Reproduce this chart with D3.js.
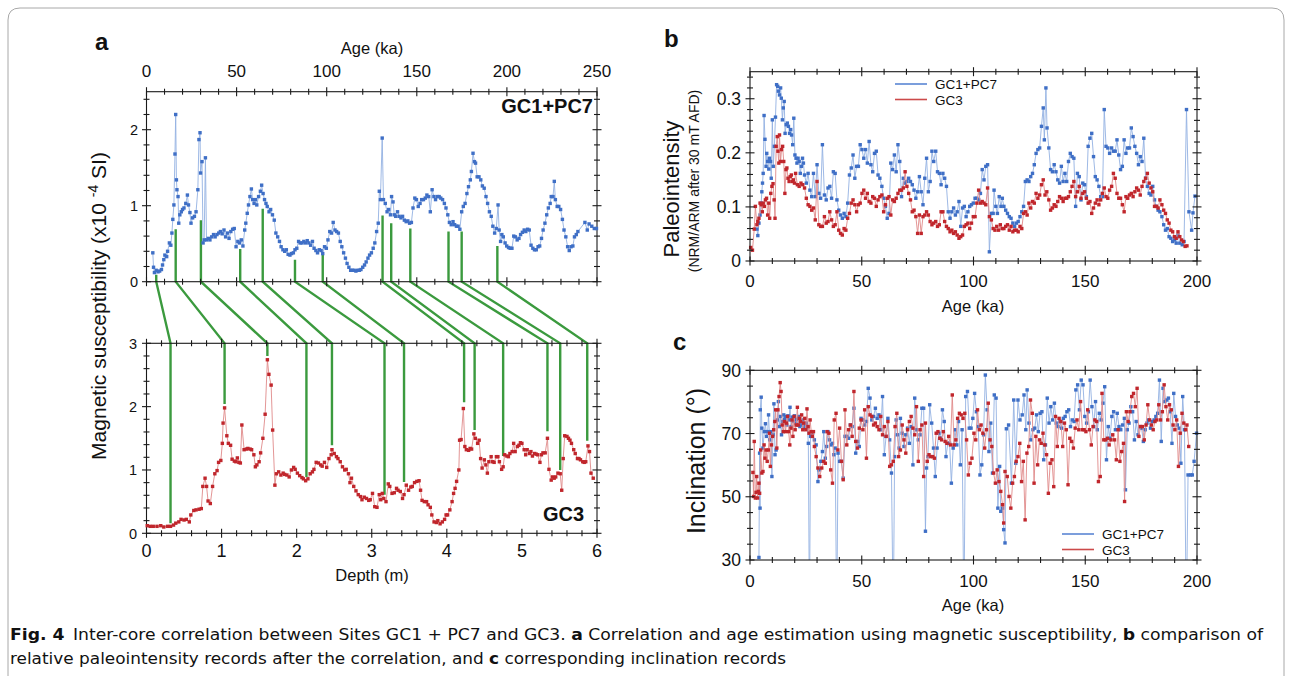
<!DOCTYPE html>
<html>
<head>
<meta charset="utf-8">
<script src="https://cdn.jsdelivr.net/npm/d3@7"></script>
<style>
    body { margin: 0; background: #fff; }
    svg { display: block; }
    text { font-family: "Liberation Sans", Arial, Helvetica, sans-serif; fill: #111; }
</style>
</head>
<body>
<svg id="fig" width="1292" height="676"></svg>
<script>
// ===========================
// Fig. 4 - inter-core correlation
// a: susceptibility tie points, b: paleointensity, c: inclination
// ===========================

// --- panel a, GC1+PC7 susceptibility [age ka, x10^-4 SI]
const susGC1 = [
[3.5,0.38],[3.9,0.19],[4.4,0.12],[5.4,0.15],[6.4,0.13],[7.3,0.14],[8.3,0.16],[8.9,0.22],[9.6,0.29],[10.2,0.35],[11.2,0.33],[11.7,0.40],[12.7,0.51],[13.5,0.48],[14.1,0.64],[14.6,0.82],[15.2,1.01],[15.8,1.68],[16.2,2.20],[16.6,1.34],[16.9,1.21],[17.5,1.12],[17.9,0.77],[18.5,0.88],[19.3,0.92],[20.0,0.95],[20.8,0.97],[21.8,1.03],[22.7,1.14],[23.3,1.01],[24.1,0.91],[24.7,0.77],[25.6,0.84],[26.6,0.86],[27.5,0.92],[28.5,1.21],[29.1,1.87],[29.7,1.96],[30.0,1.43],[30.8,1.58],[31.4,0.51],[32.0,0.55],[32.7,1.63],[33.3,0.55],[34.3,0.57],[35.2,0.55],[36.2,0.59],[37.2,0.62],[38.1,0.59],[39.1,0.62],[40.1,0.64],[41.0,0.66],[42.0,0.63],[43.0,0.68],[43.9,0.59],[44.9,0.64],[45.8,0.57],[46.8,0.66],[47.8,0.69],[48.7,0.70],[49.7,0.46],[50.7,0.53],[51.6,0.51],[52.6,0.55],[53.5,0.47],[54.5,0.68],[55.1,0.77],[55.9,0.90],[56.6,1.01],[57.4,1.12],[58.2,1.22],[58.9,1.08],[59.7,1.03],[60.5,1.08],[61.2,1.01],[62.2,1.12],[63.2,1.19],[63.9,1.27],[64.7,1.16],[65.5,1.08],[66.3,1.03],[67.0,0.99],[68.0,0.92],[68.9,0.95],[69.9,0.88],[70.9,0.81],[71.8,0.64],[72.8,0.59],[73.8,0.53],[74.7,0.46],[75.7,0.42],[76.7,0.40],[77.6,0.42],[78.6,0.36],[79.6,0.35],[80.5,0.37],[81.5,0.38],[82.4,0.42],[83.4,0.44],[84.4,0.53],[85.3,0.51],[86.3,0.51],[87.3,0.53],[88.2,0.51],[89.2,0.54],[90.1,0.51],[91.1,0.48],[92.1,0.53],[93.0,0.44],[94.0,0.41],[94.9,0.38],[95.9,0.42],[96.9,0.41],[97.8,0.37],[98.8,0.46],[99.8,0.44],[100.7,0.55],[101.7,0.66],[102.7,0.64],[103.6,0.78],[104.6,0.68],[105.5,0.66],[106.5,0.64],[107.5,0.53],[108.4,0.46],[109.4,0.38],[110.4,0.31],[111.3,0.24],[112.3,0.19],[113.3,0.15],[114.3,0.15],[115.2,0.15],[116.2,0.14],[117.1,0.15],[118.1,0.15],[119.0,0.16],[120.0,0.19],[121.0,0.22],[121.9,0.26],[122.9,0.31],[123.8,0.35],[124.8,0.38],[125.8,0.44],[126.7,0.51],[127.7,0.66],[128.6,0.77],[129.2,1.19],[129.8,1.08],[130.8,1.89],[131.5,1.08],[132.5,1.03],[133.5,0.92],[134.4,0.95],[135.4,0.88],[136.0,1.12],[136.8,1.05],[137.5,0.88],[138.3,0.86],[139.3,0.92],[140.2,0.86],[141.2,0.84],[142.1,0.86],[143.1,0.81],[144.1,0.79],[145.0,0.80],[146.0,0.77],[147.0,0.78],[147.9,0.97],[148.9,1.10],[149.8,1.08],[150.8,0.99],[151.8,1.03],[152.7,1.08],[153.7,1.08],[154.7,1.10],[155.6,1.14],[156.6,1.12],[157.5,0.92],[158.5,1.21],[159.5,1.12],[160.4,1.08],[161.4,1.12],[162.4,1.12],[163.3,1.10],[164.3,1.08],[165.3,1.03],[166.2,0.97],[167.2,0.88],[168.1,0.78],[169.1,0.75],[170.1,0.79],[171.0,0.75],[172.0,0.73],[172.9,0.73],[173.9,0.69],[174.9,0.92],[175.8,0.99],[176.8,1.03],[177.8,1.16],[178.7,1.25],[179.7,1.34],[180.3,1.45],[181.2,1.69],[182.0,1.58],[182.6,1.56],[183.5,1.38],[184.5,1.38],[185.5,1.34],[186.4,1.26],[187.4,1.23],[188.4,1.12],[189.3,1.03],[190.3,0.92],[191.3,0.86],[192.2,0.73],[193.2,0.64],[194.1,0.70],[195.1,1.01],[195.7,0.68],[196.5,0.53],[197.2,0.62],[198.0,0.59],[199.0,0.51],[199.9,0.47],[200.9,0.45],[201.8,0.44],[202.8,0.44],[203.8,0.60],[204.7,0.59],[205.7,0.55],[206.7,0.57],[207.6,0.62],[208.6,0.65],[209.6,0.68],[210.5,0.66],[211.5,0.69],[212.4,0.68],[213.4,0.48],[214.4,0.44],[215.3,0.42],[216.3,0.42],[217.3,0.46],[218.2,0.47],[219.2,0.57],[220.1,0.68],[221.1,0.77],[222.1,0.88],[223.0,0.97],[224.0,1.03],[224.6,1.12],[225.6,1.12],[226.3,1.32],[226.9,1.08],[227.9,0.99],[228.8,0.99],[229.8,0.95],[230.8,0.82],[231.7,0.68],[232.7,0.59],[233.7,0.46],[234.6,0.41],[235.6,0.46],[236.6,0.47],[237.5,0.59],[238.5,0.62],[239.4,0.66],[243.3,0.78],[244.6,0.68],[245.6,0.76],[247.1,0.73],[248.5,0.70],[249.7,0.70]
];

// --- panel a, GC3 susceptibility [depth m, x10^-4 SI]
const susGC3 = [
[0.01,0.12],[0.05,0.11],[0.09,0.11],[0.14,0.11],[0.19,0.12],[0.23,0.10],[0.28,0.11],[0.32,0.11],[0.36,0.13],[0.39,0.16],[0.43,0.18],[0.46,0.22],[0.50,0.21],[0.53,0.22],[0.57,0.18],[0.59,0.29],[0.63,0.36],[0.66,0.37],[0.70,0.38],[0.73,0.39],[0.75,0.74],[0.78,0.87],[0.80,0.74],[0.82,0.51],[0.85,0.47],[0.88,0.74],[0.91,0.94],[0.94,0.99],[0.96,1.12],[0.99,1.15],[1.01,1.42],[1.02,1.74],[1.04,1.98],[1.07,1.54],[1.09,1.42],[1.12,1.39],[1.14,1.17],[1.17,1.14],[1.19,1.13],[1.21,1.19],[1.23,1.12],[1.25,1.11],[1.27,1.71],[1.30,1.32],[1.33,1.33],[1.35,1.34],[1.38,1.33],[1.40,1.32],[1.43,1.24],[1.45,1.05],[1.47,1.08],[1.50,1.13],[1.52,1.27],[1.55,1.50],[1.58,1.88],[1.61,2.74],[1.63,2.51],[1.66,2.34],[1.68,1.63],[1.71,0.76],[1.73,0.94],[1.76,0.97],[1.79,0.92],[1.82,0.95],[1.84,0.93],[1.87,0.92],[1.90,0.89],[1.93,1.00],[1.96,1.04],[1.98,1.01],[2.01,0.95],[2.04,0.91],[2.07,0.88],[2.09,0.86],[2.12,0.83],[2.15,0.86],[2.18,0.94],[2.21,0.97],[2.23,1.01],[2.26,1.12],[2.29,1.11],[2.32,1.08],[2.34,1.06],[2.37,1.12],[2.40,1.04],[2.43,1.18],[2.46,1.24],[2.47,1.32],[2.50,1.26],[2.53,1.21],[2.55,1.18],[2.58,1.13],[2.61,1.05],[2.64,1.00],[2.66,1.01],[2.69,0.94],[2.71,0.80],[2.73,0.87],[2.76,0.74],[2.79,0.67],[2.82,0.61],[2.85,0.58],[2.87,0.53],[2.90,0.57],[2.93,0.55],[2.96,0.52],[2.98,0.53],[3.01,0.63],[3.04,0.42],[3.07,0.41],[3.10,0.61],[3.12,0.53],[3.14,0.63],[3.16,0.55],[3.19,0.50],[3.22,0.78],[3.24,0.74],[3.27,0.63],[3.30,0.64],[3.33,0.71],[3.35,0.68],[3.38,0.66],[3.41,0.55],[3.43,0.61],[3.46,0.76],[3.49,0.68],[3.52,0.73],[3.54,0.74],[3.57,0.80],[3.60,0.82],[3.63,0.83],[3.65,0.68],[3.67,0.52],[3.70,0.50],[3.73,0.50],[3.75,0.45],[3.78,0.41],[3.80,0.29],[3.83,0.18],[3.86,0.17],[3.88,0.20],[3.91,0.15],[3.94,0.18],[3.97,0.22],[3.99,0.29],[4.01,0.29],[4.04,0.37],[4.07,0.50],[4.09,0.63],[4.11,0.71],[4.13,0.82],[4.16,1.00],[4.17,1.47],[4.19,1.48],[4.22,1.97],[4.24,1.37],[4.26,1.32],[4.29,1.31],[4.31,1.34],[4.33,1.33],[4.36,1.57],[4.38,1.50],[4.41,1.42],[4.43,1.47],[4.45,1.18],[4.47,1.03],[4.50,1.16],[4.52,1.08],[4.54,0.95],[4.56,1.13],[4.59,1.21],[4.61,1.13],[4.63,1.12],[4.66,1.21],[4.68,1.21],[4.70,1.13],[4.73,1.01],[4.75,1.05],[4.77,1.24],[4.80,1.22],[4.82,1.21],[4.84,1.26],[4.87,1.29],[4.89,1.42],[4.91,1.29],[4.94,1.37],[4.96,1.39],[4.98,1.43],[5.00,1.42],[5.03,1.32],[5.05,1.24],[5.07,1.32],[5.10,1.26],[5.12,1.29],[5.14,1.22],[5.17,1.26],[5.19,1.25],[5.21,1.24],[5.24,1.12],[5.26,1.24],[5.28,1.27],[5.31,1.27],[5.34,1.50],[5.36,1.01],[5.39,0.84],[5.41,0.89],[5.43,0.87],[5.45,0.89],[5.48,0.95],[5.51,0.94],[5.53,0.68],[5.55,1.18],[5.57,1.54],[5.60,1.53],[5.62,1.50],[5.64,1.47],[5.66,1.42],[5.69,1.32],[5.71,1.26],[5.74,1.18],[5.76,1.18],[5.78,1.16],[5.81,1.13],[5.83,1.12],[5.85,1.13],[5.88,1.38],[5.90,1.29],[5.92,0.95],[5.95,0.87]
];

// --- tie points between the two cores
const tieAge    = [5.4, 16.2, 30.2, 52.0, 64.5, 82.4, 97.8, 131.0, 135.8, 146.4, 167.6, 174.9, 194.7];
const tieTopVal = [0.09, 0.69, 0.81, 0.43, 0.96, 0.29, 0.35, 0.87, 0.77, 0.70, 0.66, 0.66, 0.47];
const tieDepth  = [0.32, 1.04, 1.61, 2.13, 2.47, 3.17, 3.43, 4.23, 4.37, 4.75, 5.34, 5.51, 5.87];
const tieBotVal = [0.16, 2.04, 2.80, 0.89, 1.39, 0.61, 0.81, 2.07, 1.63, 1.22, 1.61, 1.00, 1.46];

// --- panel b, paleointensity [age ka, NRM/ARM]
const piGC1 = [
[3.1,0.059],[3.5,0.047],[4.0,0.070],[4.5,0.085],[5.0,0.107],[5.3,0.128],[5.6,0.144],[5.9,0.162],[6.3,0.269],[6.7,0.225],[7.2,0.175],[7.5,0.199],[7.9,0.184],[8.4,0.170],[8.7,0.190],[9.2,0.184],[9.5,0.153],[10.0,0.261],[10.4,0.175],[10.9,0.212],[11.4,0.266],[11.9,0.326],[12.4,0.323],[12.7,0.314],[13.2,0.307],[13.7,0.320],[14.0,0.301],[14.5,0.261],[14.9,0.283],[15.3,0.295],[15.7,0.236],[16.2,0.252],[16.7,0.255],[17.2,0.249],[17.7,0.236],[18.2,0.243],[18.6,0.233],[19.1,0.215],[19.6,0.264],[20.1,0.196],[20.6,0.190],[21.0,0.181],[21.5,0.190],[22.0,0.184],[22.5,0.162],[23.0,0.175],[23.5,0.190],[23.9,0.181],[24.4,0.159],[25.2,0.144],[26.0,0.162],[26.8,0.131],[27.6,0.119],[28.4,0.162],[29.2,0.119],[30.0,0.178],[30.8,0.125],[31.6,0.116],[32.4,0.215],[33.3,0.122],[34.1,0.113],[34.9,0.135],[35.7,0.138],[36.5,0.116],[37.3,0.165],[38.1,0.162],[38.9,0.113],[39.7,0.094],[40.5,0.085],[41.3,0.079],[42.1,0.088],[42.9,0.082],[43.7,0.107],[44.5,0.159],[45.3,0.172],[46.1,0.196],[46.9,0.153],[47.7,0.175],[48.5,0.175],[49.3,0.215],[50.1,0.206],[50.9,0.190],[51.7,0.206],[52.5,0.181],[53.3,0.221],[54.1,0.178],[54.9,0.165],[55.7,0.199],[56.5,0.203],[57.3,0.159],[58.1,0.153],[59.0,0.138],[59.8,0.116],[60.6,0.101],[61.4,0.079],[62.2,0.088],[63.0,0.181],[63.8,0.169],[64.6,0.196],[65.4,0.165],[66.2,0.215],[67.0,0.184],[67.8,0.119],[68.6,0.153],[69.4,0.144],[70.2,0.147],[71.0,0.153],[71.8,0.147],[72.6,0.141],[73.4,0.131],[74.2,0.116],[75.0,0.128],[75.8,0.156],[76.6,0.128],[77.4,0.104],[78.2,0.153],[79.0,0.190],[79.8,0.128],[80.6,0.147],[81.4,0.203],[82.2,0.184],[83.1,0.203],[83.9,0.165],[84.7,0.162],[85.5,0.141],[86.3,0.162],[87.1,0.153],[87.9,0.138],[88.7,0.091],[89.5,0.079],[90.3,0.091],[91.1,0.098],[91.9,0.085],[92.7,0.091],[93.5,0.110],[94.3,0.064],[95.1,0.098],[95.9,0.101],[96.7,0.082],[97.5,0.091],[98.3,0.101],[99.1,0.104],[99.9,0.107],[100.7,0.116],[101.5,0.116],[102.3,0.113],[103.1,0.125],[103.9,0.169],[104.7,0.150],[105.5,0.175],[106.3,0.178],[107.1,0.017],[108.0,0.088],[108.8,0.088],[109.2,0.131],[110.0,0.101],[110.7,0.088],[111.5,0.119],[112.3,0.101],[112.9,0.116],[113.6,0.101],[114.4,0.094],[115.2,0.088],[116.0,0.082],[116.8,0.079],[117.6,0.070],[118.4,0.064],[119.2,0.070],[120.0,0.073],[120.8,0.082],[121.6,0.091],[122.4,0.101],[123.2,0.147],[124.0,0.150],[124.8,0.147],[125.6,0.156],[126.4,0.162],[127.2,0.178],[128.0,0.199],[128.8,0.206],[129.6,0.209],[130.4,0.249],[131.2,0.283],[131.7,0.224],[132.4,0.320],[132.9,0.246],[133.7,0.209],[134.5,0.169],[135.3,0.165],[136.1,0.178],[136.9,0.165],[137.7,0.150],[138.5,0.144],[139.3,0.175],[140.1,0.147],[140.9,0.162],[141.7,0.147],[142.5,0.184],[143.3,0.199],[144.1,0.193],[144.9,0.190],[145.7,0.101],[146.5,0.162],[147.3,0.156],[148.1,0.113],[148.9,0.144],[149.7,0.141],[150.5,0.119],[151.3,0.212],[152.1,0.227],[152.9,0.236],[153.7,0.193],[154.5,0.156],[155.3,0.150],[156.1,0.138],[156.9,0.119],[157.7,0.119],[158.5,0.280],[159.3,0.212],[160.1,0.209],[160.9,0.199],[161.8,0.209],[162.6,0.203],[163.4,0.203],[164.2,0.224],[165.0,0.196],[165.8,0.169],[166.6,0.175],[167.4,0.224],[168.2,0.199],[169.0,0.209],[169.8,0.209],[170.6,0.246],[171.4,0.230],[172.2,0.212],[173.0,0.199],[173.8,0.178],[174.6,0.193],[175.4,0.184],[176.2,0.227],[177.0,0.153],[177.8,0.138],[178.6,0.125],[179.4,0.122],[180.2,0.138],[181.0,0.113],[181.8,0.101],[182.6,0.094],[183.4,0.091],[184.3,0.082],[185.1,0.067],[185.9,0.057],[186.7,0.060],[187.5,0.045],[188.3,0.042],[189.1,0.036],[189.9,0.039],[190.7,0.033],[191.5,0.048],[192.3,0.033],[193.4,0.030],[194.2,0.036],[195.3,0.280],[196.4,0.091],[197.6,0.057],[198.2,0.089],[199.1,0.120]
];
const piGC3 = [
[0.3,0.025],[1.1,0.020],[1.9,0.059],[2.4,0.101],[3.1,0.067],[3.5,0.073],[4.0,0.079],[4.5,0.107],[5.0,0.104],[5.5,0.091],[5.9,0.107],[6.4,0.101],[6.9,0.113],[7.4,0.116],[7.9,0.085],[8.4,0.107],[8.8,0.079],[9.3,0.125],[9.8,0.138],[10.3,0.143],[10.8,0.113],[11.2,0.079],[11.7,0.212],[12.2,0.230],[12.5,0.203],[12.9,0.181],[13.2,0.233],[13.7,0.184],[14.1,0.206],[14.6,0.212],[15.1,0.184],[15.6,0.125],[16.1,0.169],[16.5,0.172],[17.0,0.153],[17.5,0.147],[18.0,0.156],[18.5,0.159],[19.0,0.147],[19.4,0.150],[19.9,0.144],[20.4,0.162],[21.2,0.141],[22.0,0.138],[22.8,0.144],[23.6,0.141],[24.4,0.135],[25.2,0.116],[26.0,0.104],[26.8,0.101],[27.6,0.094],[28.4,0.098],[29.2,0.076],[30.0,0.147],[30.8,0.067],[31.6,0.064],[32.4,0.064],[33.3,0.082],[34.1,0.070],[34.9,0.073],[35.7,0.091],[36.5,0.076],[37.3,0.064],[38.1,0.067],[38.9,0.091],[39.7,0.057],[40.5,0.051],[41.3,0.048],[42.1,0.060],[42.9,0.057],[43.7,0.079],[44.5,0.088],[45.3,0.107],[46.1,0.113],[46.9,0.104],[47.7,0.091],[48.5,0.104],[49.3,0.107],[50.1,0.125],[50.9,0.131],[51.7,0.116],[52.5,0.125],[53.3,0.110],[54.1,0.107],[54.9,0.119],[55.7,0.116],[56.5,0.101],[57.3,0.113],[58.1,0.119],[59.0,0.122],[59.8,0.091],[60.6,0.104],[61.4,0.116],[62.2,0.119],[63.0,0.085],[63.8,0.113],[64.6,0.110],[65.4,0.116],[66.2,0.125],[67.0,0.131],[67.8,0.131],[68.6,0.135],[69.4,0.165],[70.2,0.138],[71.0,0.125],[71.8,0.113],[72.6,0.091],[73.4,0.094],[74.2,0.082],[75.0,0.051],[75.8,0.085],[76.6,0.051],[77.4,0.082],[78.2,0.085],[79.0,0.091],[79.8,0.085],[80.6,0.073],[81.4,0.067],[82.2,0.070],[83.1,0.073],[83.9,0.064],[84.7,0.067],[85.5,0.091],[86.3,0.091],[87.1,0.073],[87.9,0.064],[88.7,0.060],[89.5,0.054],[90.3,0.057],[91.1,0.051],[91.9,0.054],[92.7,0.048],[93.5,0.042],[94.3,0.045],[95.1,0.048],[95.9,0.064],[96.7,0.067],[97.5,0.070],[98.3,0.060],[99.1,0.070],[99.9,0.082],[100.7,0.082],[101.5,0.107],[102.3,0.131],[103.1,0.107],[103.9,0.110],[104.7,0.107],[105.5,0.104],[106.3,0.135],[107.1,0.082],[108.0,0.076],[108.8,0.060],[109.6,0.057],[110.4,0.064],[111.2,0.057],[112.0,0.067],[112.8,0.060],[113.6,0.060],[114.4,0.064],[115.2,0.067],[116.0,0.057],[116.8,0.064],[117.6,0.054],[118.4,0.057],[119.2,0.057],[120.0,0.054],[120.8,0.064],[121.6,0.060],[122.4,0.088],[123.2,0.091],[124.0,0.085],[124.8,0.107],[125.6,0.098],[126.4,0.110],[127.2,0.107],[128.0,0.125],[128.8,0.116],[129.6,0.122],[130.4,0.141],[131.2,0.150],[132.0,0.122],[132.8,0.128],[133.7,0.113],[134.5,0.094],[135.3,0.098],[136.1,0.104],[136.9,0.101],[137.7,0.110],[138.5,0.119],[139.3,0.116],[140.1,0.110],[140.9,0.116],[141.7,0.116],[142.5,0.119],[143.3,0.128],[144.1,0.138],[144.9,0.147],[145.7,0.119],[146.5,0.128],[147.3,0.138],[148.1,0.116],[148.9,0.125],[149.7,0.128],[150.5,0.116],[151.3,0.107],[152.1,0.110],[152.9,0.088],[153.7,0.098],[154.5,0.107],[155.3,0.113],[156.1,0.104],[156.9,0.113],[157.7,0.125],[158.5,0.135],[159.3,0.119],[160.1,0.116],[160.9,0.131],[161.8,0.138],[162.6,0.162],[163.4,0.153],[164.2,0.125],[165.0,0.116],[165.8,0.116],[166.6,0.104],[167.4,0.091],[168.2,0.119],[169.0,0.116],[169.8,0.122],[170.6,0.125],[171.4,0.119],[172.2,0.128],[173.0,0.135],[173.8,0.131],[174.6,0.122],[175.4,0.138],[176.2,0.147],[177.0,0.153],[177.8,0.162],[178.6,0.144],[179.4,0.135],[180.2,0.128],[181.0,0.101],[181.8,0.101],[182.6,0.098],[183.4,0.113],[184.3,0.104],[185.1,0.094],[185.9,0.088],[186.7,0.076],[187.5,0.070],[188.3,0.057],[189.1,0.054],[189.9,0.045],[190.7,0.042],[191.5,0.054],[192.3,0.045],[193.1,0.039],[193.9,0.036],[194.7,0.027],[195.5,0.028]
];

// --- panel c, inclination [age ka, degrees]; values under 30 run off the axis
const incGC1 = [
[4.0,30.8],[4.3,63.8],[4.5,46.4],[4.6,77.5],[5.0,81.5],[5.3,71.7],[5.8,65.4],[6.4,70.6],[6.9,73.1],[7.4,69.1],[7.9,70.6],[8.3,75.9],[8.8,68.0],[9.3,70.6],[9.8,56.4],[10.3,69.6],[10.7,79.4],[11.2,63.3],[11.7,64.8],[12.2,74.3],[12.7,80.1],[13.1,72.2],[13.6,75.4],[14.1,69.6],[14.6,73.8],[15.1,75.9],[15.5,74.5],[16.0,75.4],[16.5,72.7],[17.0,75.6],[17.5,74.3],[17.9,78.3],[18.4,72.2],[18.9,75.2],[19.4,73.8],[19.9,75.6],[20.4,73.3],[20.8,74.5],[21.3,72.7],[21.8,75.4],[22.3,72.2],[22.8,73.8],[23.2,72.7],[23.7,74.3],[24.2,71.7],[24.7,72.7],[25.2,73.3],[25.6,72.2],[26.1,66.9],[26.6,10],[27.1,69.1],[28.0,70.1],[28.8,68.0],[29.6,66.4],[30.4,54.8],[30.9,58.5],[31.7,61.2],[32.4,64.3],[33.0,70.6],[33.7,62.2],[34.3,65.9],[34.9,70.6],[35.6,68.0],[36.2,66.4],[36.9,66.9],[37.5,63.3],[38.1,65.4],[38.8,10],[39.4,63.8],[40.1,61.2],[40.9,61.2],[41.7,55.9],[42.5,69.1],[43.3,69.1],[44.1,68.5],[44.9,72.7],[45.7,72.2],[46.5,78.0],[47.3,63.8],[48.1,67.5],[48.9,65.9],[49.7,74.8],[50.5,74.3],[51.3,72.7],[52.1,73.8],[52.9,84.3],[53.7,81.2],[54.5,74.3],[55.3,75.4],[56.1,78.0],[56.9,74.8],[57.7,75.9],[58.5,71.2],[59.3,81.7],[60.1,63.3],[60.9,69.1],[61.7,74.8],[62.5,68.0],[63.3,57.5],[64.1,10],[64.7,62.7],[65.4,74.3],[66.0,69.6],[66.7,65.4],[67.3,74.8],[68.1,70.1],[68.9,65.9],[69.7,69.6],[70.5,71.7],[71.3,66.9],[72.1,72.2],[72.9,60.1],[73.7,81.2],[74.5,71.2],[75.3,68.0],[76.1,69.6],[76.9,78.0],[77.7,78.0],[78.5,39.1],[79.0,59.1],[79.6,62.7],[80.4,79.1],[81.3,73.3],[82.1,65.4],[82.9,56.4],[83.7,65.4],[84.5,70.1],[85.3,68.5],[86.1,77.5],[86.9,73.8],[87.7,62.7],[88.5,66.9],[89.3,66.9],[90.1,54.3],[90.9,65.4],[91.7,71.2],[92.5,66.4],[93.3,73.8],[94.1,60.1],[94.9,71.2],[95.7,10],[96.5,81.7],[97.3,83.3],[98.1,71.7],[98.9,71.7],[99.7,74.8],[100.5,82.7],[101.3,76.9],[102.1,72.2],[102.9,56.9],[103.7,60.1],[104.5,69.6],[105.3,88.5],[106.1,77.5],[106.9,64.3],[107.7,73.3],[108.5,57.5],[109.3,82.2],[110.1,81.2],[110.9,46.4],[111.7,59.6],[112.2,45.4],[113.0,46.4],[113.5,39.6],[114.1,35.4],[114.7,71.5],[115.7,72.7],[117.0,54.3],[118.0,80.6],[118.9,60.6],[119.9,80.6],[120.8,74.3],[121.8,75.9],[122.6,82.2],[123.4,71.2],[124.0,83.8],[124.8,73.3],[125.6,68.0],[126.6,71.2],[127.4,71.7],[128.2,75.9],[129.0,70.6],[129.8,76.4],[130.6,76.9],[131.4,61.7],[132.2,66.4],[133.0,81.2],[133.8,73.3],[134.6,78.5],[135.4,74.3],[136.2,79.6],[137.0,73.3],[137.8,72.2],[138.6,73.8],[139.4,71.7],[140.2,74.8],[141.0,75.4],[141.8,76.9],[142.6,77.5],[143.4,72.2],[144.2,74.3],[145.0,73.8],[145.8,83.8],[146.6,85.4],[147.4,77.5],[148.2,86.9],[149.0,85.4],[149.8,75.4],[150.6,73.3],[151.4,76.9],[152.2,86.9],[153.0,78.5],[153.8,72.2],[154.6,80.1],[155.4,71.2],[156.3,76.4],[157.1,74.3],[157.9,79.6],[158.7,84.8],[159.5,61.7],[160.3,72.2],[161.1,68.5],[161.9,75.4],[162.7,76.9],[163.5,71.2],[164.3,76.4],[165.1,72.2],[165.9,71.2],[166.7,72.7],[167.5,74.8],[168.0,52.2],[168.8,71.2],[169.6,73.3],[170.4,78.5],[171.2,76.9],[172.0,68.0],[172.8,73.8],[173.6,69.6],[174.4,72.2],[175.2,71.7],[176.0,67.5],[176.8,71.2],[177.6,73.3],[178.4,74.3],[179.2,71.7],[180.0,73.8],[180.8,74.3],[181.6,75.4],[182.4,76.4],[183.2,86.9],[184.0,67.5],[184.8,84.3],[185.6,80.1],[186.4,80.6],[187.2,81.2],[188.0,76.9],[188.8,66.9],[189.6,82.7],[190.4,75.4],[191.2,72.7],[192.0,71.7],[192.8,60.6],[193.6,81.7],[194.4,71.2],[195.2,10],[196.0,56.9],[197.1,56.9],[197.9,56.9],[198.7,61.2],[199.8,70.1]
];
const incGC3 = [
[1.3,57.7],[1.6,50.1],[1.9,67.5],[2.4,49.6],[2.7,51.4],[3.0,56.4],[3.4,49.6],[3.7,51.7],[4.0,54.3],[4.3,51.1],[4.8,64.8],[5.3,57.5],[5.8,58.0],[6.3,66.4],[6.7,62.2],[7.2,64.8],[7.7,61.2],[8.2,64.8],[8.7,70.1],[9.1,59.6],[9.6,66.4],[10.1,69.1],[10.6,71.2],[11.1,73.8],[11.5,77.5],[12.0,65.4],[12.5,77.5],[13.0,81.7],[13.5,86.1],[13.9,83.3],[14.4,72.7],[14.9,70.6],[15.4,73.8],[15.9,70.6],[16.3,73.3],[16.8,75.4],[17.3,70.6],[17.8,66.4],[18.3,71.7],[18.8,74.3],[19.2,69.1],[19.7,75.4],[20.2,71.2],[20.7,72.7],[21.2,78.3],[21.6,72.7],[22.1,74.8],[22.6,73.8],[23.1,75.9],[23.6,71.2],[24.0,73.3],[24.5,74.8],[25.0,71.2],[25.5,77.8],[26.0,72.2],[26.4,70.1],[26.9,74.3],[27.4,70.6],[27.9,69.1],[28.4,70.6],[28.8,65.9],[29.6,62.7],[30.4,59.1],[31.2,56.4],[32.1,59.1],[32.9,61.2],[33.7,60.6],[34.5,70.6],[35.3,70.1],[36.1,58.5],[36.9,54.3],[37.7,74.3],[38.5,76.4],[39.3,64.8],[40.1,71.7],[40.9,61.2],[41.7,55.4],[42.5,77.5],[43.3,66.4],[44.1,71.2],[44.9,72.7],[45.7,69.1],[46.5,83.3],[47.3,67.5],[48.1,65.4],[48.9,71.7],[49.7,74.3],[50.5,71.2],[51.3,77.5],[52.1,62.2],[52.9,78.5],[53.7,75.9],[54.5,75.4],[55.3,72.7],[56.1,73.3],[56.9,72.2],[57.7,71.2],[58.5,75.4],[59.3,69.6],[60.1,72.2],[60.9,69.1],[61.7,73.8],[62.5,59.6],[63.3,60.1],[64.1,61.2],[64.9,72.2],[65.7,76.4],[66.5,62.7],[67.3,64.8],[68.1,72.7],[68.9,68.0],[69.7,63.8],[70.5,71.2],[71.3,73.8],[72.1,75.4],[72.9,71.7],[73.7,69.6],[74.5,78.5],[75.3,61.2],[76.1,71.2],[76.9,72.7],[77.7,56.4],[78.5,73.3],[79.3,61.2],[80.1,63.3],[80.9,62.7],[81.7,62.7],[82.5,62.2],[83.3,70.1],[84.1,70.6],[84.9,68.5],[85.7,68.0],[86.5,70.6],[87.3,67.5],[88.1,66.9],[88.9,69.1],[89.7,66.4],[90.5,82.2],[91.3,66.4],[92.1,68.0],[92.9,74.8],[93.7,76.4],[94.5,75.9],[95.3,74.8],[96.1,76.4],[96.9,68.0],[97.7,56.9],[98.5,60.6],[99.3,62.2],[100.2,70.1],[101.0,68.0],[101.8,77.5],[102.6,71.2],[103.4,72.7],[104.2,70.1],[105.0,65.4],[105.8,71.2],[106.6,79.6],[107.4,68.0],[108.2,65.9],[109.0,57.5],[109.8,54.3],[110.6,58.5],[111.4,54.8],[112.2,51.7],[113.0,47.5],[113.5,41.7],[114.1,58.0],[115.1,56.4],[115.9,50.1],[116.7,46.4],[117.5,54.3],[118.3,56.4],[119.1,61.2],[119.9,62.7],[120.7,66.9],[121.5,54.8],[122.3,61.2],[123.1,42.7],[123.9,63.8],[124.7,65.9],[125.5,80.6],[126.3,76.4],[127.1,54.3],[127.9,69.1],[128.7,60.1],[129.5,68.0],[130.3,66.9],[131.1,70.1],[131.9,66.4],[132.7,63.3],[133.5,51.1],[134.3,60.6],[135.1,61.7],[135.9,53.2],[136.7,75.4],[137.5,65.9],[138.3,74.8],[139.1,73.8],[139.9,65.9],[140.7,73.3],[141.5,71.2],[142.3,53.8],[143.1,68.5],[143.9,67.5],[144.7,65.4],[145.5,71.7],[146.3,74.3],[147.1,71.2],[147.9,80.1],[148.7,71.2],[149.5,71.2],[150.3,70.6],[151.1,77.5],[151.9,71.2],[152.7,66.4],[153.5,72.2],[154.3,74.3],[155.1,73.8],[155.9,54.8],[156.7,56.4],[157.5,82.7],[158.3,68.0],[159.1,68.0],[159.9,68.5],[160.7,66.4],[161.5,68.0],[162.3,69.6],[163.1,68.0],[163.9,61.7],[164.7,71.2],[165.5,61.2],[166.3,64.3],[167.1,66.9],[167.6,48.5],[168.4,76.9],[169.2,73.8],[170.0,76.9],[170.8,81.7],[171.6,82.7],[172.4,78.5],[173.2,84.3],[174.0,69.1],[174.8,72.2],[175.6,72.2],[176.4,68.0],[177.2,72.7],[178.0,79.1],[178.8,74.3],[179.6,72.7],[180.4,71.2],[181.2,73.8],[182.0,74.3],[182.9,79.1],[183.7,74.3],[184.5,76.9],[185.3,85.4],[186.1,78.5],[186.9,74.3],[187.7,79.1],[188.5,77.5],[189.3,72.7],[190.1,71.2],[190.9,74.3],[191.7,59.6],[192.5,70.1],[193.3,76.4],[194.1,73.3],[194.9,71.2],[195.5,72.7],[196.3,65.9]
];

// --- tick settings
const ageTicksA = [0, 50, 100, 150, 200, 250];
const ageTicksBC = [0, 50, 100, 150, 200];
const depthTicks = [0, 1, 2, 3, 4, 5, 6];
const susTopTicks = [0, 1, 2];
const susBotTicks = [0, 1, 2, 3];
const piTicks = [0, 0.1, 0.2, 0.3];
const incTicks = [30, 50, 70, 90];
const legendNames = ['GC1+PC7', 'GC3'];

const colors = {
    blue: '#3f6fc6', blueLine: '#93b1e2',
    red: '#c0262c', redLine: '#e08a8a',
    green: '#3b9a3e', axis: '#1a1a1a'
};

const svg = d3.select('#fig');

// scales
const ageA = d3.scaleLinear().domain([0, 250]).range([146.5, 597]);
const susTopY = d3.scaleLinear().domain([0, 2.5]).range([281.7, 91.7]);
const depthX = d3.scaleLinear().domain([0, 6]).range([146.5, 597]);
const susBotY = d3.scaleLinear().domain([0, 3]).range([533.3, 343.3]);
const ageB = d3.scaleLinear().domain([0, 200]).range([750, 1197]);
const piY = d3.scaleLinear().domain([0, 0.35]).range([261, 71.7]);
const incY = d3.scaleLinear().domain([30, 90]).range([560, 370.3]);

function minorRange(scale, step) {
    const [a, b] = scale.domain();
    return d3.range(a, b + step / 2, step).map(v => +v.toFixed(4));
}

// box with ticks crossing each side
function drawBox(g, xs, ys, xMajor, xMinor, yMajor, yMinor) {
    const [x0, x1] = xs.range();
    const [y0, y1] = ys.range();
    const ax = g.append('g').attr('stroke', colors.axis).attr('stroke-width', 1.1).attr('fill', 'none');
    ax.append('rect')
        .attr('x', x0).attr('y', y1)
        .attr('width', x1 - x0).attr('height', y0 - y1);
    const tick = (v, isMajor, horiz) => {
        const L = isMajor ? 4.5 : 3;
        if (horiz) {
            const p = xs(v);
            [y0, y1].forEach(y => ax.append('line').attr('x1', p).attr('x2', p).attr('y1', y - L).attr('y2', y + L));
        } else {
            const p = ys(v);
            [x0, x1].forEach(x => ax.append('line').attr('x1', x - L).attr('x2', x + L).attr('y1', p).attr('y2', p));
        }
    };
    xMinor.forEach(v => tick(v, xMajor.includes(v), true));
    yMinor.forEach(v => tick(v, yMajor.includes(v), false));
}

function xLabels(g, xs, values, y, size) {
    g.selectAll(null).data(values).join('text')
        .attr('x', d => xs(d)).attr('y', y)
        .attr('text-anchor', 'middle')
        .style('font-size', size + 'px')
        .text(d => d);
}

function yLabels(g, ys, values, x, size, fmt) {
    g.selectAll(null).data(values).join('text')
        .attr('x', x).attr('y', d => ys(d) + size * 0.36)
        .attr('text-anchor', 'end')
        .style('font-size', size + 'px')
        .text(fmt || (d => d));
}

function drawSeries(g, data, xs, ys, lineColor, markColor, clip) {
    const s = g.append('g');
    if (clip) s.attr('clip-path', `url(#${clip})`);
    s.append('path')
        .datum(data)
        .attr('fill', 'none')
        .attr('stroke', lineColor)
        .attr('stroke-width', 0.9)
        .attr('d', d3.line().x(d => xs(d[0])).y(d => ys(d[1])));
    s.selectAll(null).data(data).join('rect')
        .attr('x', d => xs(d[0]) - 1.7)
        .attr('y', d => ys(d[1]) - 1.7)
        .attr('width', 3.4).attr('height', 3.4)
        .attr('fill', markColor);
}

function addClip(id, xs, ys) {
    const [x0, x1] = xs.range();
    const [y0, y1] = ys.range();
    svg.append('defs').append('clipPath').attr('id', id)
        .append('rect').attr('x', x0 - 3).attr('y', y1 - 3)
        .attr('width', x1 - x0 + 6).attr('height', y0 - y1 + 3);
}

function drawLegend(g, x, y) {
    [colors.blue, colors.red].forEach((c, i) => {
        g.append('line')
            .attr('x1', x).attr('x2', x + 32)
            .attr('y1', y + i * 15.5).attr('y2', y + i * 15.5)
            .attr('stroke', i === 0 ? '#5b86d4' : '#cc4a4a')
            .attr('stroke-width', 1.6);
        g.append('text')
            .attr('x', x + 40).attr('y', y + i * 15.5 + 5)
            .style('font-size', '13.5px')
            .text(legendNames[i]);
    });
}

// ---------- outer frame
svg.append('path')
    .attr('d', 'M8,676 V20 Q8,8 20,8 H1272 Q1284,8 1284,20 V676')
    .attr('fill', 'none')
    .attr('stroke', '#a8a8a8')
    .attr('stroke-width', 1);

// ---------- panel a
const ga = svg.append('g');

// tie lines drawn under the records
ga.append('g').selectAll('path')
    .data(tieAge.map((a, i) => i))
    .join('path')
    .attr('fill', 'none')
    .attr('stroke', colors.green)
    .attr('stroke-width', 2.4)
    .attr('d', i => `M${ageA(tieAge[i])},${susTopY(tieTopVal[i])}` +
        `V${susTopY(0)}L${depthX(tieDepth[i])},${susBotY(3)}V${susBotY(tieBotVal[i])}`);

drawBox(ga, ageA, susTopY, ageTicksA, minorRange(ageA, 10), susTopTicks, minorRange(susTopY, 0.2));
drawBox(ga, depthX, susBotY, depthTicks, minorRange(depthX, 0.2), susBotTicks, minorRange(susBotY, 0.2));

drawSeries(ga, susGC1, ageA, susTopY, colors.blueLine, colors.blue);
drawSeries(ga, susGC3, depthX, susBotY, colors.redLine, colors.red);

xLabels(ga, ageA, ageTicksA, 77, 17);
xLabels(ga, depthX, depthTicks, 557, 18);
yLabels(ga, susTopY, susTopTicks, 138, 14.5);
yLabels(ga, susBotY, susBotTicks, 137, 14.5);

ga.append('text').attr('x', 372).attr('y', 54).attr('text-anchor', 'middle')
    .style('font-size', '16.5px').text('Age (ka)');
ga.append('text').attr('x', 372).attr('y', 581).attr('text-anchor', 'middle')
    .style('font-size', '16.5px').text('Depth (m)');
ga.append('text').attr('x', 593).attr('y', 113).attr('text-anchor', 'end')
    .style('font-size', '20px').style('font-weight', 'bold').text('GC1+PC7');
ga.append('text').attr('x', 584).attr('y', 521).attr('text-anchor', 'end')
    .style('font-size', '20px').style('font-weight', 'bold').text('GC3');
ga.append('text').attr('x', 95).attr('y', 50)
    .style('font-size', '24px').style('font-weight', 'bold').text('a');

const yTitleA = ga.append('text')
    .attr('transform', 'translate(106,306) rotate(-90)')
    .attr('text-anchor', 'middle')
    .style('font-size', '21px');
yTitleA.append('tspan').text('Magnetic susceptibility (x10 ');
yTitleA.append('tspan').attr('dy', -8).style('font-size', '14px').text('-4');
yTitleA.append('tspan').attr('dy', 8).text(' SI)');

// ---------- panel b
const gb = svg.append('g');
addClip('clip-b', ageB, piY);
drawSeries(gb, piGC1, ageB, piY, colors.blueLine, colors.blue, 'clip-b');
drawSeries(gb, piGC3, ageB, piY, colors.redLine, colors.red, 'clip-b');
drawBox(gb, ageB, piY, ageTicksBC, minorRange(ageB, 10), piTicks, minorRange(piY, 0.02));
xLabels(gb, ageB, ageTicksBC, 287, 17);
yLabels(gb, piY, piTicks, 741, 17.5, d => d === 0 ? '0' : d.toFixed(1));
drawLegend(gb, 895, 84);

gb.append('text').attr('x', 973).attr('y', 312).attr('text-anchor', 'middle')
    .style('font-size', '16.5px').text('Age (ka)');
gb.append('text').attr('x', 664).attr('y', 47)
    .style('font-size', '24px').style('font-weight', 'bold').text('b');
gb.append('text')
    .attr('transform', 'translate(679,189) rotate(-90)')
    .attr('text-anchor', 'middle')
    .style('font-size', '22px').text('Paleointensity');
gb.append('text')
    .attr('transform', 'translate(699,181) rotate(-90)')
    .attr('text-anchor', 'middle')
    .style('font-size', '14px').text('(NRM/ARM after 30 mT AFD)');

// ---------- panel c
const gc = svg.append('g');
addClip('clip-c', ageB, incY);
drawSeries(gc, incGC1, ageB, incY, colors.blueLine, colors.blue, 'clip-c');
drawSeries(gc, incGC3, ageB, incY, colors.redLine, colors.red, 'clip-c');
drawBox(gc, ageB, incY, ageTicksBC, minorRange(ageB, 10), incTicks, minorRange(incY, 5));
xLabels(gc, ageB, ageTicksBC, 587, 17);
yLabels(gc, incY, incTicks, 741, 17.5);
drawLegend(gc, 1062, 534);

gc.append('text').attr('x', 973).attr('y', 611).attr('text-anchor', 'middle')
    .style('font-size', '16.5px').text('Age (ka)');
gc.append('text').attr('x', 673).attr('y', 350)
    .style('font-size', '24px').style('font-weight', 'bold').text('c');
gc.append('text')
    .attr('transform', 'translate(705,461) rotate(-90)')
    .attr('text-anchor', 'middle')
    .style('font-size', '25px').text('Inclination (°)');

// ---------- caption
const cap1 = svg.append('text')
    .attr('x', 10).attr('y', 640)
    .attr('textLength', 1253).attr('lengthAdjust', 'spacingAndGlyphs')
    .style('font-family', '"Liberation Sans Narrow", "DejaVu Sans Condensed", sans-serif')
    .style('font-size', '16.5px');
cap1.append('tspan').style('font-weight', 'bold').text('Fig. 4');
cap1.append('tspan').text('\u2002Inter-core correlation between Sites GC1 + PC7 and GC3. ');
cap1.append('tspan').style('font-weight', 'bold').text('a');
cap1.append('tspan').text(' Correlation and age estimation using magnetic susceptibility, ');
cap1.append('tspan').style('font-weight', 'bold').text('b');
cap1.append('tspan').text(' comparison of');

const cap2 = svg.append('text')
    .attr('x', 10).attr('y', 664)
    .attr('textLength', 776).attr('lengthAdjust', 'spacingAndGlyphs')
    .style('font-family', '"Liberation Sans Narrow", "DejaVu Sans Condensed", sans-serif')
    .style('font-size', '16.5px');
cap2.append('tspan').text('relative paleointensity records after the correlation, and ');
cap2.append('tspan').style('font-weight', 'bold').text('c');
cap2.append('tspan').text(' corresponding inclination records');
</script>
</body>
</html>
